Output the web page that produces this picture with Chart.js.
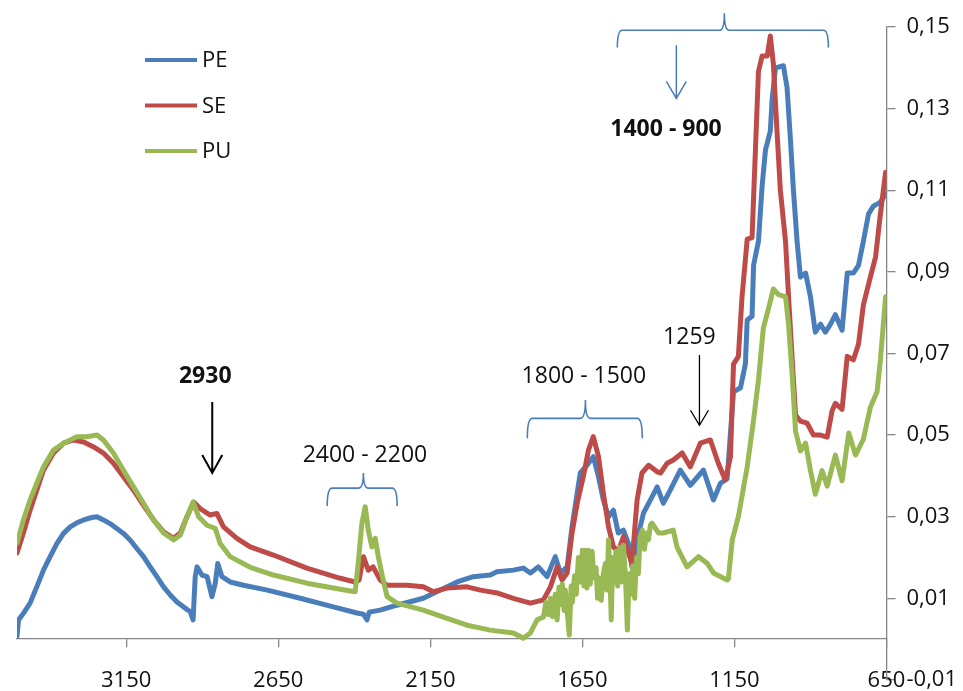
<!DOCTYPE html>
<html>
<head>
<meta charset="utf-8">
<script src="https://cdn.jsdelivr.net/npm/chart.js@4.4.1/dist/chart.umd.min.js"></script>
<style>
    body { margin: 0; background: #fff; }
    canvas { display: block; }
</style>
</head>
<body>
<canvas id="espectro" width="963" height="691"></canvas>
<script>
// Eixos
const numerosDeOnda = [3150, 2650, 2150, 1650, 1150, 650];
const absorbancias = [-0.01, 0.01, 0.03, 0.05, 0.07, 0.09, 0.11, 0.13, 0.15];

// PE
const onPE = [3509, 3504, 3488, 3466, 3444, 3422, 3400, 3378, 3356, 3334,
    3312, 3290, 3263, 3246, 3225, 3203, 3181, 3159, 3137, 3115,
    3093, 3071, 3049, 3027, 3005, 2983, 2962, 2939, 2930, 2923,
    2917, 2901, 2884, 2868, 2857, 2849, 2835, 2808, 2764, 2686,
    2578, 2469, 2391, 2370, 2358, 2351, 2315, 2260, 2173, 2117,
    2062, 2009, 1953, 1931, 1877, 1844, 1821, 1795, 1766, 1739,
    1722, 1700, 1684, 1657, 1635, 1614, 1597, 1581, 1564, 1548,
    1532, 1515, 1499, 1487, 1470, 1449, 1426, 1404, 1384, 1361,
    1328, 1295, 1252, 1219, 1196, 1174, 1153, 1130, 1114, 1108,
    1092, 1087, 1071, 1059, 1048, 1032, 1026, 1015, 989, 977,
    966, 956, 944, 933, 916, 900, 884, 867, 851, 834,
    818, 796, 779, 759, 742, 726, 709, 693, 670, 653];
const absPE = [0.0007, 0.0047, 0.0063, 0.0088, 0.0128, 0.0169, 0.0202, 0.0234, 0.0259, 0.0275,
    0.0285, 0.0292, 0.0298, 0.0300, 0.0292, 0.0283, 0.0271, 0.0259, 0.0243, 0.0222,
    0.0202, 0.0177, 0.0153, 0.0128, 0.0108, 0.0091, 0.0079, 0.0067, 0.0047, 0.0153,
    0.0177, 0.0157, 0.0153, 0.0104, 0.0137, 0.0185, 0.0153, 0.0140, 0.0132, 0.0120,
    0.0100, 0.0079, 0.0064, 0.0061, 0.0047, 0.0066, 0.0071, 0.0083, 0.0100, 0.0120,
    0.0140, 0.0153, 0.0157, 0.0165, 0.0169, 0.0174, 0.0162, 0.0177, 0.0153, 0.0202,
    0.0162, 0.0177, 0.0275, 0.0407, 0.0426, 0.0447, 0.0398, 0.0341, 0.0300, 0.0316,
    0.0260, 0.0267, 0.0235, 0.0177, 0.0243, 0.0309, 0.0341, 0.0373, 0.0333, 0.0365,
    0.0414, 0.0377, 0.0414, 0.0341, 0.0382, 0.0393, 0.0606, 0.0616, 0.0674, 0.0782,
    0.0791, 0.0916, 0.0975, 0.1110, 0.1198, 0.1245, 0.1323, 0.1400, 0.1405, 0.1352,
    0.1226, 0.1100, 0.0975, 0.0887, 0.0897, 0.0839, 0.0752, 0.0772, 0.0752, 0.0772,
    0.0795, 0.0757, 0.0897, 0.0897, 0.0916, 0.0975, 0.1042, 0.1061, 0.1071, 0.1090];

// SE
const onSE = [3509, 3488, 3466, 3444, 3422, 3389, 3356, 3323, 3290, 3257,
    3225, 3192, 3159, 3126, 3093, 3060, 3027, 2994, 2972, 2950,
    2928, 2907, 2874, 2852, 2830, 2786, 2742, 2666, 2556, 2446,
    2397, 2384, 2370, 2354, 2338, 2315, 2292, 2227, 2173, 2140,
    2095, 2029, 1985, 1931, 1877, 1821, 1778, 1755, 1733, 1717,
    1700, 1684, 1667, 1647, 1630, 1614, 1597, 1581, 1564, 1548,
    1532, 1515, 1499, 1487, 1470, 1454, 1432, 1404, 1393, 1371,
    1351, 1322, 1295, 1262, 1229, 1203, 1180, 1163, 1153, 1137,
    1125, 1108, 1092, 1081, 1071, 1059, 1042, 1032, 1022, 1010,
    999, 982, 972, 960, 949, 933, 911, 890, 867, 845,
    829, 818, 796, 779, 759, 742, 726, 703, 686, 670,
    653];
const absSE = [0.0211, 0.0260, 0.0316, 0.0365, 0.0414, 0.0456, 0.0480, 0.0488, 0.0483, 0.0471,
    0.0456, 0.0431, 0.0398, 0.0365, 0.0328, 0.0292, 0.0263, 0.0247, 0.0260, 0.0300,
    0.0336, 0.0320, 0.0304, 0.0308, 0.0275, 0.0247, 0.0226, 0.0206, 0.0174, 0.0149,
    0.0140, 0.0145, 0.0202, 0.0169, 0.0177, 0.0145, 0.0132, 0.0132, 0.0128, 0.0116,
    0.0125, 0.0128, 0.0120, 0.0113, 0.0100, 0.0088, 0.0096, 0.0128, 0.0177, 0.0145,
    0.0162, 0.0260, 0.0333, 0.0398, 0.0463, 0.0496, 0.0447, 0.0358, 0.0275, 0.0226,
    0.0214, 0.0251, 0.0211, 0.0186, 0.0341, 0.0407, 0.0426, 0.0410, 0.0407, 0.0431,
    0.0439, 0.0456, 0.0422, 0.0480, 0.0488, 0.0431, 0.0390, 0.0447, 0.0674, 0.0693,
    0.0839, 0.0980, 0.0984, 0.1198, 0.1391, 0.1429, 0.1429, 0.1478, 0.1410, 0.1245,
    0.1100, 0.0975, 0.0839, 0.0684, 0.0549, 0.0534, 0.0529, 0.0500, 0.0500, 0.0495,
    0.0559, 0.0578, 0.0563, 0.0693, 0.0684, 0.0723, 0.0819, 0.0887, 0.0936, 0.1042,
    0.1144];

// PU
const onPU = [3509, 3488, 3466, 3444, 3422, 3389, 3356, 3312, 3279, 3246,
    3225, 3192, 3159, 3126, 3093, 3060, 3027, 2994, 2972, 2950,
    2930, 2912, 2884, 2857, 2841, 2808, 2742, 2666, 2556, 2446,
    2397, 2387, 2375, 2364, 2354, 2342, 2331, 2321, 2305, 2292,
    2260, 2173, 2095, 2029, 1953, 1877, 1844, 1821, 1799,
    1778, 1770, 1762, 1755, 1748, 1739, 1733, 1727, 1722, 1716,
    1710, 1706, 1699, 1693, 1687, 1683, 1676, 1670, 1663, 1657,
    1650, 1645, 1640, 1635, 1630, 1624, 1618, 1612, 1605, 1600,
    1594, 1588, 1581, 1574, 1569, 1564, 1559, 1555, 1550, 1545,
    1540, 1534, 1528, 1521, 1515, 1508, 1502, 1496, 1490, 1484,
    1478, 1472, 1466, 1460, 1453, 1446, 1439, 1433, 1426, 1421,
    1400, 1384, 1351, 1339, 1306, 1268, 1240, 1219,
    1174, 1170, 1157, 1137, 1108, 1087, 1071, 1055, 1038, 1022,
    1005, 982, 972, 960, 949, 933, 916, 900, 884, 862,
    845, 818, 796, 774, 752, 726, 703, 681, 670, 653];
const absPU = [0.0235, 0.0292, 0.0341, 0.0382, 0.0422, 0.0463, 0.0480, 0.0496, 0.0496, 0.0500,
    0.0488, 0.0456, 0.0414, 0.0373, 0.0333, 0.0292, 0.0260, 0.0243, 0.0255, 0.0300,
    0.0336, 0.0300, 0.0279, 0.0271, 0.0234, 0.0202, 0.0176, 0.0157, 0.0137, 0.0122,
    0.0116, 0.0186, 0.0284, 0.0324, 0.0267, 0.0226, 0.0247, 0.0202, 0.0145, 0.0104,
    0.0088, 0.0071, 0.0051, 0.0034, 0.0022, 0.0015, 0.0002, 0.0015, 0.0047,
    0.0054, 0.0090, 0.0060, 0.0100, 0.0055, 0.0110, 0.0047, 0.0127, 0.0085, 0.0135,
    0.0070, 0.0120, 0.0060, 0.0010, 0.0130, 0.0090, 0.0155, 0.0110, 0.0200, 0.0140,
    0.0218, 0.0130, 0.0218, 0.0125, 0.0218, 0.0135, 0.0215, 0.0150, 0.0175, 0.0100,
    0.0150, 0.0095, 0.0160, 0.0186, 0.0120, 0.0243, 0.0150, 0.0047, 0.0200, 0.0140,
    0.0215, 0.0130, 0.0225, 0.0140, 0.0230, 0.0150, 0.0022, 0.0160, 0.0110, 0.0180,
    0.0100, 0.0200, 0.0160, 0.0250, 0.0267, 0.0220, 0.0260, 0.0243, 0.0280, 0.0284,
    0.0260, 0.0260, 0.0267, 0.0226, 0.0177, 0.0202, 0.0186, 0.0162,
    0.0145, 0.0147, 0.0243, 0.0300, 0.0422, 0.0537, 0.0635, 0.0762, 0.0810, 0.0858,
    0.0844, 0.0839, 0.0772, 0.0645, 0.0510, 0.0461, 0.0480, 0.0413, 0.0355, 0.0413,
    0.0375, 0.0451, 0.0388, 0.0505, 0.0451, 0.0490, 0.0568, 0.0606, 0.0684, 0.0839];

const corCinza = '#868686';
const fonte = '"Open Sans", "Liberation Sans", sans-serif';

// Marcações das regiões (em número de onda / absorbância)
const chaves = [
    { de: 2489, ate: 2259, meio: 2370, linha: 0.0370, ponta: 0.0326, topo: 0.0407 },
    { de: 1831, ate: 1453, meio: 1640, linha: 0.0541, ponta: 0.0492, topo: 0.0586 },
    { de: 1535, ate: 841, meio: 1183, linha: 0.1492, ponta: 0.1450, topo: 0.1534 }
];
const setas = [
    { x: 2867, de: 0.0581, ate: 0.0407, cor: '#000', largura: 2, aba: 10, alt: 18 },
    { x: 1265, de: 0.0696, ate: 0.0524, cor: '#000', largura: 1.3, aba: 9, alt: 15 },
    { x: 1341, de: 0.1455, ate: 0.1325, cor: '#4A7EBB', largura: 1.5, aba: 10, alt: 17 }
];
const rotulos = [
    { texto: '2930', x: 2890, y: 0.0644, negrito: true },
    { texto: '2400 - 2200', x: 2365, y: 0.0451, negrito: false },
    { texto: '1800 - 1500', x: 1645, y: 0.0644, negrito: false },
    { texto: '1259', x: 1298, y: 0.0740, negrito: false },
    { texto: '1400 - 900', x: 1375, y: 0.1250, negrito: true }
];

function juntarPontos(xs, ys) {
    const n = Math.min(xs.length, ys.length);
    const pontos = [];
    for (let i = 0; i < n; i++) {
        pontos.push({ x: xs[i], y: ys[i] });
    }
    return pontos;
}

function desenharChave(ctx, c, sx, sy) {
    const x1 = Math.min(sx(c.de), sx(c.ate));
    const x2 = Math.max(sx(c.de), sx(c.ate));
    const xm = sx(c.meio);
    const yl = sy(c.linha), yp = sy(c.ponta), yt = sy(c.topo);
    const r = 5;
    ctx.beginPath();
    ctx.moveTo(x1, yp);
    ctx.quadraticCurveTo(x1, yl, x1 + r, yl);
    ctx.lineTo(xm - r, yl);
    ctx.quadraticCurveTo(xm, yl, xm, yt);
    ctx.quadraticCurveTo(xm, yl, xm + r, yl);
    ctx.lineTo(x2 - r, yl);
    ctx.quadraticCurveTo(x2, yl, x2, yp);
    ctx.stroke();
}

const anotacoes = {
    id: 'anotacoes',
    afterDraw(chart) {
        const ctx = chart.ctx;
        const sx = v => chart.scales.x.getPixelForValue(v);
        const sy = v => chart.scales.y.getPixelForValue(v);
        ctx.save();

        ctx.strokeStyle = '#4A7EBB';
        ctx.lineWidth = 1.6;
        chaves.forEach(c => desenharChave(ctx, c, sx, sy));

        setas.forEach(s => {
            const x = sx(s.x), y1 = sy(s.de), y2 = sy(s.ate);
            ctx.strokeStyle = s.cor;
            ctx.lineWidth = s.largura;
            ctx.beginPath();
            ctx.moveTo(x, y1);
            ctx.lineTo(x, y2);
            ctx.moveTo(x - s.aba, y2 - s.alt);
            ctx.lineTo(x, y2);
            ctx.lineTo(x + s.aba, y2 - s.alt);
            ctx.stroke();
        });

        ctx.fillStyle = '#111';
        ctx.textAlign = 'center';
        ctx.textBaseline = 'middle';
        rotulos.forEach(r => {
            ctx.font = (r.negrito ? 'bold ' : '') + '23px ' + fonte;
            ctx.fillText(r.texto, sx(r.x), sy(r.y));
        });

        // legenda
        ctx.textAlign = 'left';
        ctx.font = '22px ' + fonte;
        chart.data.datasets.forEach((ds, i) => {
            const y = 60 + i * 45.5;
            ctx.strokeStyle = ds.borderColor;
            ctx.lineWidth = 4;
            ctx.beginPath();
            ctx.moveTo(145, y);
            ctx.lineTo(197, y);
            ctx.stroke();
            ctx.fillStyle = '#111';
            ctx.fillText(ds.label, 202, y + 1);
        });
        ctx.restore();
    }
};

const ticksOnda = scale => { scale.ticks = numerosDeOnda.map(v => ({ value: v })); };

const ctx = document.getElementById('espectro').getContext('2d');
const grafico = new Chart(ctx, {
    type: 'line',
    data: {
        datasets: [
            { label: 'PE', data: juntarPontos(onPE, absPE), borderColor: '#4A7EBB', order: 3 },
            { label: 'SE', data: juntarPontos(onSE, absSE), borderColor: '#BE4B48', order: 2 },
            { label: 'PU', data: juntarPontos(onPU, absPU), borderColor: '#98B954', order: 1 }
        ]
    },
    options: {
        responsive: false,
        animation: false,
        devicePixelRatio: 1,
        layout: { autoPadding: false, padding: { top: 27, left: 17, right: -5, bottom: 11 } },
        elements: {
            line: { borderWidth: 5, tension: 0, borderJoinStyle: 'round', borderCapStyle: 'round' },
            point: { radius: 0 }
        },
        plugins: {
            legend: { display: false },
            tooltip: { enabled: false }
        },
        scales: {
            // linha do eixo em y = 0, só com as marcas
            x: {
                type: 'linear',
                reverse: true,
                min: 650,
                max: 3509,
                position: { y: 0 },
                afterBuildTicks: ticksOnda,
                ticks: { display: false },
                grid: { drawOnChartArea: false, drawTicks: true, tickLength: 8, color: corCinza, lineWidth: 1.3 },
                border: { display: true, color: corCinza, width: 1.3 }
            },
            // rótulos do número de onda no pé do gráfico
            xRotulos: {
                axis: 'x',
                type: 'linear',
                reverse: true,
                min: 650,
                max: 3509,
                position: { y: -0.01 },
                afterBuildTicks: ticksOnda,
                grid: { display: false, drawTicks: false },
                border: { display: false },
                ticks: {
                    padding: -10,
                    maxRotation: 0,
                    autoSkip: false,
                    color: '#111',
                    font: { family: fonte, size: 22, lineHeight: 1 },
                    callback: v => String(v)
                }
            },
            y: {
                position: 'right',
                min: -0.01,
                max: 0.15,
                afterBuildTicks: scale => { scale.ticks = absorbancias.map(v => ({ value: v })); },
                grid: { drawOnChartArea: false, drawTicks: true, tickLength: 9, color: corCinza, lineWidth: 1.3 },
                border: { display: true, color: corCinza, width: 1.3 },
                ticks: {
                    padding: 11,
                    color: '#111',
                    // altura de linha mínima: não reserva espaço extra abaixo do eixo
                    font: { family: fonte, size: 22, lineHeight: 0.01 },
                    callback: v => v.toFixed(2).replace('.', ',')
                }
            }
        }
    },
    plugins: [anotacoes]
});
</script>
</body>
</html>
